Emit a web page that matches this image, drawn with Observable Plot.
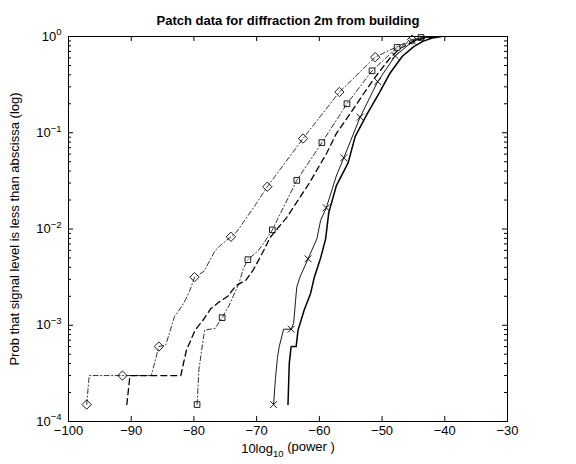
<!DOCTYPE html>
<html><head><meta charset="utf-8">
<script src="https://cdn.jsdelivr.net/npm/d3@7"></script>
<script src="https://cdn.jsdelivr.net/npm/@observablehq/plot@0.6"></script>
<style>
body{margin:0;background:#fff}
#chart svg{display:block}
</style>
</head><body><div id="chart"></div>
<script>
const titleText = "Patch data for diffraction 2m from building";
const yLabelText = "Prob that signal level is less than abscissa (log)";
const xTicks = [-100, -90, -80, -70, -60, -50, -40, -30];
const yMajor = [1e-4, 1e-3, 1e-2, 1e-1, 1];
const yMinor = [2e-4,3e-4,4e-4,5e-4,6e-4,7e-4,8e-4,9e-4,2e-3,3e-3,4e-3,5e-3,6e-3,7e-3,8e-3,9e-3,2e-2,3e-2,4e-2,5e-2,6e-2,7e-2,8e-2,9e-2,0.2,0.3,0.4,0.5,0.6,0.7,0.8,0.9];

// dash-dot with diamonds
const diamondX = [-97.1,-96.7,-86.8,-85.6,-84.5,-83.1,-81.7,-80.7,-79.9,-78.4,-76.6,-75.4,-74.1,-73.2,-70.0,-68.3,-62.6,-56.8,-51.1,-45.2,-43.5,-42.5];
const diamondY = [1.5e-4,3.0e-4,3.0e-4,6.0e-4,6.2e-4,1.23e-3,1.66e-3,2.24e-3,3.16e-3,3.63e-3,6.0e-3,7.1e-3,8.3e-3,9.3e-3,0.0186,0.0275,0.087,0.265,0.61,0.93,0.977,1];
const diamondMarkX = [-97.1,-91.4,-85.6,-79.9,-74.1,-68.3,-62.6,-56.8,-51.1,-45.2];
const diamondMarkY = [1.5e-4,3.0e-4,6.0e-4,3.16e-3,8.3e-3,0.0275,0.087,0.265,0.61,0.93];

// dash-dot with squares
const squareX = [-79.5,-79.2,-78.3,-76.6,-75.5,-74.5,-72.8,-72.1,-71.4,-69.7,-68.7,-67.5,-63.6,-59.6,-55.6,-51.6,-47.6,-43.8,-42.0];
const squareY = [1.5e-4,3.5e-4,8.9e-4,9.3e-4,1.2e-3,1.55e-3,2.75e-3,3.9e-3,4.8e-3,6.0e-3,7.4e-3,9.8e-3,0.032,0.079,0.20,0.44,0.77,0.977,1];
const squareMarkX = [-79.5,-75.5,-71.4,-67.5,-63.6,-59.6,-55.6,-51.6,-47.6,-43.8];
const squareMarkY = [1.5e-4,1.2e-3,4.8e-3,9.8e-3,0.032,0.079,0.20,0.44,0.77,0.977];

// dashed
const dashedX = [-90.7,-90.2,-82.1,-81.2,-79.8,-78.5,-77.35,-76.0,-74.6,-73.3,-71.7,-70.6,-69.5,-68.3,-67.9,-65.2,-61.6,-58.8,-57.3,-55.1,-52.35,-50.7,-48.8,-47.3,-45.0,-43.0,-41.0];
const dashedY = [1.5e-4,3.0e-4,3.0e-4,5.5e-4,8.9e-4,1.14e-3,1.48e-3,1.74e-3,2.0e-3,2.57e-3,2.95e-3,3.7e-3,5.0e-3,7.1e-3,8.1e-3,0.0132,0.030,0.062,0.098,0.158,0.29,0.41,0.59,0.74,0.89,0.966,1];

// thin solid with x markers
const thinX = [-67.3,-67.0,-66.7,-66.4,-65.7,-64.5,-64.1,-63.8,-63.6,-63.1,-61.8,-60.4,-59.8,-58.9,-57.3,-56.1,-53.5,-50.7,-47.9,-45.1,-43.5,-42.0];
const thinY = [1.5e-4,2.8e-4,4.5e-4,6.0e-4,9.1e-4,9.1e-4,1.05e-3,1.78e-3,2.5e-3,3.16e-3,4.9e-3,7.9e-3,0.0123,0.0166,0.0355,0.055,0.145,0.34,0.63,0.89,0.966,1];
const thinMarkX = [-67.3,-64.5,-61.8,-58.9,-56.1,-53.5,-50.7,-47.9,-45.1];
const thinMarkY = [1.5e-4,9.1e-4,4.9e-3,0.0166,0.055,0.145,0.34,0.63,0.89];

// thick solid
const thickX = [-65.0,-64.8,-64.5,-63.7,-63.4,-62.4,-61.4,-60.8,-59.8,-59.0,-58.5,-57.3,-55.4,-54.3,-52.35,-50.4,-48.8,-46.8,-45.0,-43.5,-42.0,-40.5];
const thickY = [1.5e-4,4.0e-4,6.0e-4,6.0e-4,8.9e-4,1.45e-3,2.14e-3,3.16e-3,5.0e-3,7.9e-3,0.0148,0.028,0.049,0.091,0.158,0.263,0.41,0.62,0.78,0.89,0.966,1];

const pts = (xs, ys) => xs.map((x, i) => ({x, y: ys[i]}));
const expOf = d => Math.round(Math.log10(d));
const W = 576, H = 464, mL = 68, mR = 69, mT = 36, mB = 43;
const plotW = W - mL - mR, plotH = H - mT - mB;

const chart = Plot.plot({
  width: W, height: H,
  marginLeft: mL, marginRight: mR, marginTop: mT, marginBottom: mB,
  style: {fontFamily: "'Liberation Sans', Arial, Helvetica, sans-serif", fontSize: "13px", color: "black", background: "white"},
  x: {domain: [-100, -30], label: null},
  y: {type: "log", domain: [1e-4, 1], label: null},
  marks: [
    Plot.line(pts(diamondX, diamondY), {x: "x", y: "y", stroke: "black", strokeWidth: 0.8, strokeDasharray: "5,2.5,1,2.5"}),
    Plot.line(pts(squareX, squareY), {x: "x", y: "y", stroke: "black", strokeWidth: 0.8, strokeDasharray: "5,2.5,1,2.5"}),
    Plot.line(pts(dashedX, dashedY), {x: "x", y: "y", stroke: "black", strokeWidth: 1.3, strokeDasharray: "6,4"}),
    Plot.line(pts(thinX, thinY), {x: "x", y: "y", stroke: "black", strokeWidth: 0.9}),
    Plot.line(pts(thickX, thickY), {x: "x", y: "y", stroke: "black", strokeWidth: 1.5}),
    Plot.dot(pts(diamondMarkX, diamondMarkY), {x: "x", y: "y", symbol: "diamond2", r: 4.2, stroke: "black", strokeWidth: 0.9, fill: "none"}),
    Plot.dot(pts(squareMarkX, squareMarkY), {x: "x", y: "y", symbol: "square2", r: 3.6, stroke: "black", strokeWidth: 0.9, fill: "none"}),
    Plot.dot(pts(thinMarkX, thinMarkY), {x: "x", y: "y", symbol: "times", r: 3.2, stroke: "black", strokeWidth: 0.9}),
    Plot.frame({stroke: "black", strokeWidth: 1}),
    // inward ticks
    Plot.ruleX(xTicks, {x: d => d, stroke: "black", insetTop: plotH - 5}),
    Plot.ruleX(xTicks, {x: d => d, stroke: "black", insetBottom: plotH - 5}),
    Plot.ruleY(yMajor, {y: d => d, stroke: "black", insetRight: plotW - 5}),
    Plot.ruleY(yMajor, {y: d => d, stroke: "black", insetLeft: plotW - 5}),
    Plot.ruleY(yMinor, {y: d => d, stroke: "black", insetRight: plotW - 3}),
    Plot.ruleY(yMinor, {y: d => d, stroke: "black", insetLeft: plotW - 3}),
    Plot.axisX(xTicks, {anchor: "bottom", tickSize: 0, tickPadding: 4, fontSize: 13, label: null}),
    Plot.axisY(yMajor, {anchor: "left", tickSize: 0, tickPadding: 7, fontSize: 13, tickFormat: d => "10^" + expOf(d), label: null}),
    Plot.text([titleText], {frameAnchor: "top", dy: -21, fontWeight: "bold", fontSize: 13}),
    Plot.text([yLabelText], {frameAnchor: "left", dx: -54, rotate: -90, textAnchor: "middle", fontSize: 13}),
    Plot.text(["10log10 (power )"], {frameAnchor: "bottom", dy: 31, fontSize: 13})
  ]
});

// Render superscripts / subscripts as real text with tspans
d3.select(chart).selectAll("text").each(function() {
  const t = d3.select(this);
  const s = t.text();
  const m = /^10\^(-?\d+)$/.exec(s);
  if (m) {
    t.text("");
    t.append("tspan").text("10");
    t.append("tspan").attr("dy", "-0.55em").attr("font-size", "9.5").text(m[1].replace("-", "\u2212"));
  } else if (s === "10log10 (power )") {
    t.text("");
    t.append("tspan").text("10log");
    t.append("tspan").attr("dy", "0.45em").attr("font-size", "9.5").text("10");
    t.append("tspan").attr("dy", "-0.45em").text(" (power )");
  }
});

document.getElementById("chart").appendChild(chart);
</script>
</body></html>
